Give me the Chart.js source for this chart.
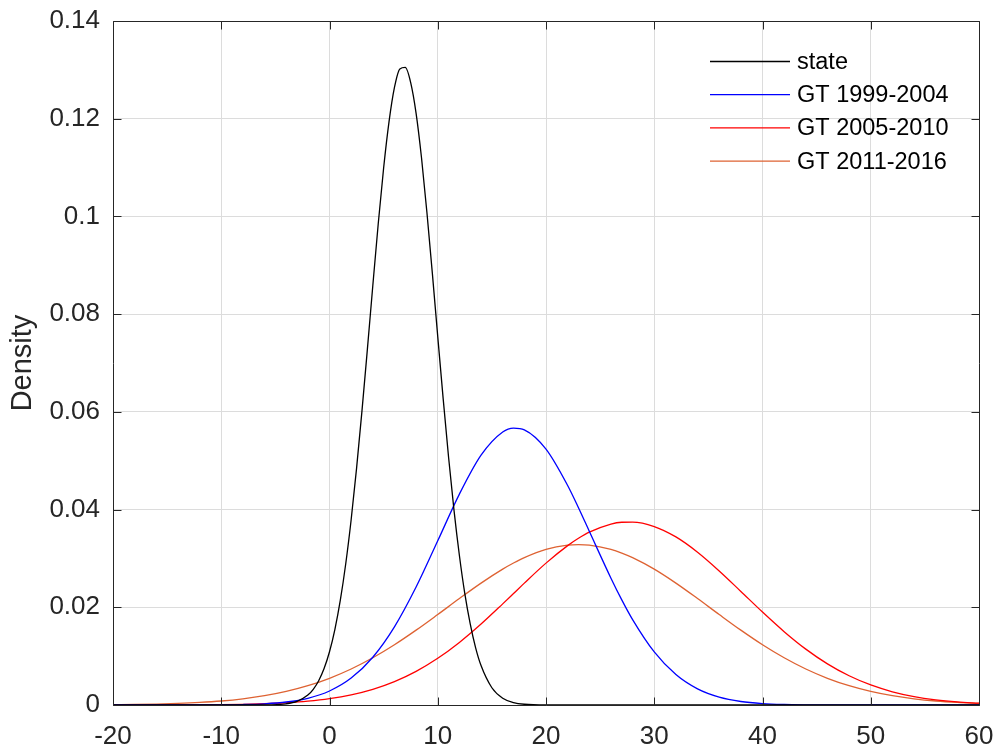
<!DOCTYPE html>
<html>
<head>
<meta charset="utf-8">
<title>Density</title>
<script src="https://cdn.jsdelivr.net/npm/chart.js@4.4.1/dist/chart.umd.min.js"></script>
<style>
html, body { margin: 0; padding: 0; background: #fff; }
#wrap { width: 1000px; height: 746px; }
</style>
</head>
<body>
<div id="wrap"><canvas id="DensityChart" width="1000" height="746"></canvas></div>
<script>
var seriesNames = ['state', 'GT 1999-2004', 'GT 2005-2010', 'GT 2011-2016'];
var seriesColors = ['#000000', '#0000ff', '#ff0000', 'rgb(222,98,50)'];

var xTickLabels = ['-20', '-10', '0', '10', '20', '30', '40', '50', '60'];
var yTickLabels = ['0', '0.02', '0.04', '0.06', '0.08', '0.1', '0.12', '0.14'];

// state curve, read at a finer step around its narrow peak
var stateX = [-20, -10, -6, -4, -3, -2, -1.5, -1, -0.5, 0,
    0.5, 1, 1.5, 2, 2.5, 3, 3.5, 4, 4.5, 5, 5.5, 6, 6.5, 7, 7.5, 8, 8.5, 9, 9.5, 10,
    10.5, 11, 11.5, 12, 12.5, 13, 13.5, 14, 15, 16, 17, 18, 20, 30, 60];
var stateY = [0, 0, 0.00002, 0.00025, 0.00075, 0.00204, 0.00322, 0.00497, 0.00746, 0.0109,
    0.0155, 0.02145, 0.02891, 0.03792, 0.04842, 0.0602, 0.07284, 0.08582, 0.09844, 0.1099,
    0.1194, 0.1264, 0.1302, 0.1305, 0.1274, 0.1211, 0.112, 0.1008, 0.0884, 0.0754,
    0.0627, 0.0507, 0.0399, 0.0306, 0.0228, 0.0166, 0.0117, 0.00807, 0.00353, 0.00138,
    0.00049, 0.00015, 0.00001, 0, 0];

// the three GT curves share one set of x positions
var gtX = [-20, -18, -16, -14, -12, -10, -8, -6, -4, -2, 0, 2, 4, 6, 8, 10, 12, 14, 16,
    17, 18, 20, 22, 23, 24, 26, 27,
    28, 30, 32, 34, 36, 38, 40, 42, 44, 46, 48, 50, 52, 54, 56, 58, 60];
var gt1999 = [0, 0, 0, 0.000002, 0.000009, 0.000033, 0.000094, 0.00025, 0.00061, 0.00138,
    0.00287, 0.00551, 0.00978, 0.016, 0.02414, 0.03361, 0.04317, 0.05114, 0.05588,
    0.05668, 0.05633, 0.05239, 0.04494, 0.04038, 0.03556, 0.02596, 0.02152,
    0.01748, 0.01086, 0.00622, 0.00329, 0.0016, 0.00072, 0.0003, 0.000115, 0.00004,
    0.00001, 0, 0, 0, 0, 0, 0, 0];
var gt2005 = [0.000002, 0.0000039, 0.0000086, 0.0000182, 0.0000372, 0.0000735, 0.00014,
    0.000258, 0.000459, 0.000787, 0.0013, 0.00208, 0.00321, 0.00479, 0.00689, 0.00956,
    0.01281, 0.01657, 0.0207,
    0.02282, 0.02495, 0.02904, 0.03262, 0.03412, 0.03538, 0.03704, 0.0374,
    0.03743, 0.03652, 0.0344, 0.03127, 0.02744, 0.02325, 0.01902, 0.01501, 0.01144,
    0.00842, 0.00598, 0.0041, 0.00271, 0.00173, 0.00107, 0.00064, 0.00037];
var gt2011 = [0.00006, 0.00011, 0.00019, 0.00032, 0.00052, 0.00082, 0.00127, 0.0019,
    0.00278, 0.00395, 0.00547, 0.00737, 0.00967, 0.01233, 0.01532, 0.01852, 0.02179,
    0.02495, 0.02781,
    0.02906, 0.03016, 0.03184, 0.03272, 0.03283, 0.03272, 0.03184, 0.0311,
    0.03016, 0.02781, 0.02495, 0.02179, 0.01852, 0.01532, 0.01233, 0.00967, 0.00737,
    0.00547, 0.00395, 0.00278, 0.0019, 0.00127, 0.00082, 0.00052, 0.00032];

function toPoints(xs, ys) {
    return xs.map(function (x, i) { return { x: x, y: ys[i] }; });
}

var seriesData = [
    toPoints(stateX, stateY),
    toPoints(gtX, gt1999),
    toPoints(gtX, gt2005),
    toPoints(gtX, gt2011)
];

var axisColor = '#262626';
var fontFamily = '"Liberation Sans", Arial, Helvetica, sans-serif';

// box round the axes, inward ticks on all four sides, and the legend inside the plot
var boxPlugin = {
    id: 'boxPlugin',
    afterDatasetsDraw: function (chart) {
        var ctx = chart.ctx;
        var a = chart.chartArea;
        var xs = chart.scales.x;
        var ys = chart.scales.y;
        var left = Math.round(a.left) + 0.5, right = Math.round(a.right) + 0.5;
        var top = Math.round(a.top) + 0.5, bottom = Math.round(a.bottom) + 0.5;
        ctx.save();
        ctx.strokeStyle = axisColor;
        ctx.lineWidth = 1;
        ctx.beginPath();
        ctx.moveTo(left, top); ctx.lineTo(right, top); ctx.lineTo(right, bottom);
        ctx.lineTo(left, bottom); ctx.closePath();
        xs.ticks.forEach(function (t) {
            var px = Math.round(xs.getPixelForValue(t.value)) + 0.5;
            ctx.moveTo(px, bottom); ctx.lineTo(px, bottom - 8);
            ctx.moveTo(px, top); ctx.lineTo(px, top + 8);
        });
        ys.ticks.forEach(function (t) {
            var py = Math.round(ys.getPixelForValue(t.value)) + 0.5;
            ctx.moveTo(left, py); ctx.lineTo(left + 8, py);
            ctx.moveTo(right, py); ctx.lineTo(right - 8, py);
        });
        ctx.stroke();

        ctx.font = '23.5px ' + fontFamily;
        ctx.textBaseline = 'middle';
        ctx.textAlign = 'left';
        chart.data.datasets.forEach(function (ds, i) {
            var y = 61.5 + i * 33.2;
            ctx.strokeStyle = ds.borderColor;
            ctx.lineWidth = 1.3;
            ctx.beginPath();
            ctx.moveTo(710, y); ctx.lineTo(790, y);
            ctx.stroke();
            ctx.fillStyle = '#000';
            ctx.fillText(ds.label, 797, y + 1);
        });
        ctx.restore();
    }
};

var ctxdensity = document.getElementById('DensityChart');
var DensityChart = new Chart(ctxdensity, {
    type: 'line',
    data: {
        datasets: seriesData.map(function (pts, i) {
            return {
                label: seriesNames[i],
                data: pts,
                borderColor: seriesColors[i],
                backgroundColor: seriesColors[i],
                borderWidth: 1.3,
                pointRadius: 0,
                fill: false,
                cubicInterpolationMode: 'monotone'
            };
        })
    },
    options: {
        responsive: false,
        animation: false,
        devicePixelRatio: 1,
        layout: { padding: { left: 0, top: 21, right: 21, bottom: 0 } },
        plugins: {
            legend: { display: false },
            tooltip: { enabled: false }
        },
        scales: {
            x: {
                type: 'linear',
                min: -20,
                max: 60,
                afterFit: function (scale) {
                    scale.height = 41;
                    scale.paddingLeft = 0;
                    scale.paddingRight = 0;
                },
                grid: { color: '#dcdcdc', drawTicks: false },
                border: { display: false },
                ticks: {
                    stepSize: 10,
                    padding: 16,
                    color: axisColor,
                    font: { family: fontFamily, size: 26 },
                    maxRotation: 0,
                    callback: function (value, index) { return xTickLabels[index]; }
                }
            },
            y: {
                min: 0,
                max: 0.14,
                afterFit: function (scale) {
                    scale.width = 113;
                    scale.paddingTop = 0;
                    scale.paddingBottom = 0;
                },
                grid: { color: '#dcdcdc', drawTicks: false },
                border: { display: false },
                title: {
                    display: true,
                    text: 'Density',
                    color: axisColor,
                    font: { family: fontFamily, size: 29 },
                    padding: { top: 6, bottom: 0 }
                },
                ticks: {
                    stepSize: 0.02,
                    padding: 13,
                    color: axisColor,
                    font: { family: fontFamily, size: 26 },
                    callback: function (value, index) { return yTickLabels[index]; }
                }
            }
        }
    },
    plugins: [boxPlugin]
});
</script>
</body>
</html>
